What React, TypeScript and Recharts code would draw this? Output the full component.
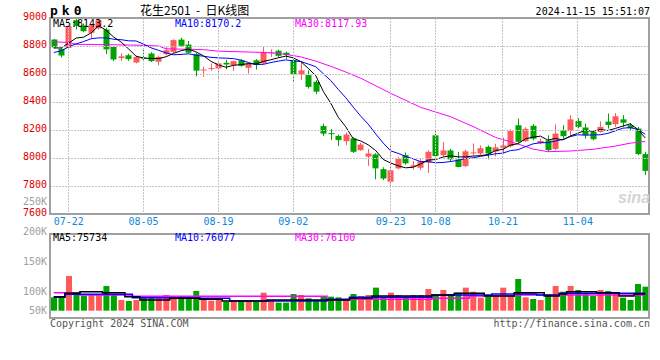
import { ComposedChart, Bar, Line, XAxis, YAxis, Cell } from 'recharts';

const DATES = [
  '07-18', '07-19', '07-22', '07-23', '07-24', '07-25', '07-26', '07-29', '07-30', '07-31',
  '08-01', '08-02', '08-05', '08-06', '08-07', '08-08', '08-09', '08-12', '08-13', '08-14',
  '08-15', '08-16', '08-19', '08-20', '08-21', '08-22', '08-23', '08-26', '08-27', '08-28',
  '08-29', '08-30', '09-02', '09-03', '09-04', '09-05', '09-06', '09-09', '09-10', '09-11',
  '09-12', '09-13', '09-18', '09-19', '09-20', '09-23', '09-24', '09-25', '09-26', '09-27',
  '09-30', '10-08', '10-09', '10-10', '10-11', '10-14', '10-15', '10-16', '10-17', '10-18',
  '10-21', '10-22', '10-23', '10-24', '10-25', '10-28', '10-29', '10-30', '10-31', '11-01',
  '11-04', '11-05', '11-06', '11-07', '11-08', '11-11', '11-12', '11-13', '11-14', '11-15',
];

const OPEN = [
  8846, 8780, 8786, 8984, 8946, 8894, 8926, 8918, 8794, 8714,
  8734, 8682, 8718, 8746, 8688, 8742, 8758, 8846, 8810, 8742,
  8626, 8636, 8640, 8680, 8664, 8698, 8644, 8698, 8676, 8748,
  8766, 8752, 8700, 8594, 8592, 8544, 8228, 8178, 8158, 8120,
  8140, 8056, 8010, 8026, 7920, 7830, 7926, 8020, 7936, 7930,
  7968, 8162, 8020, 8054, 7990, 7942, 8034, 8032, 8080, 8046,
  8072, 8084, 8234, 8120, 8230, 8106, 8126, 8064, 8198, 8194,
  8264, 8218, 8186, 8186, 8260, 8242, 8276, 8234, 8210, 8028,
];
const HIGH = [
  8850, 8788, 8950, 8996, 8960, 8952, 8998, 8930, 8800, 8748,
  8745, 8730, 8778, 8756, 8730, 8794, 8848, 8860, 8836, 8750,
  8652, 8676, 8684, 8700, 8696, 8706, 8684, 8706, 8800, 8776,
  8774, 8760, 8706, 8686, 8626, 8556, 8246, 8206, 8168, 8182,
  8148, 8108, 8064, 8034, 7934, 8096, 8008, 8040, 7978, 7996,
  8054, 8198, 8114, 8066, 8044, 8060, 8104, 8090, 8090, 8102,
  8146, 8206, 8282, 8220, 8242, 8140, 8162, 8240, 8234, 8306,
  8284, 8246, 8198, 8262, 8318, 8320, 8306, 8250, 8222, 8044,
];
const LOW = [
  8782, 8718, 8778, 8918, 8898, 8854, 8918, 8742, 8692, 8694,
  8694, 8676, 8698, 8686, 8662, 8734, 8750, 8796, 8746, 8584,
  8580, 8624, 8572, 8634, 8622, 8652, 8604, 8632, 8670, 8722,
  8720, 8708, 8544, 8556, 8496, 8456, 8158, 8128, 8086, 8092,
  8036, 8052, 7944, 7848, 7842, 7794, 7920, 7952, 7918, 7912,
  7894, 7976, 8012, 7972, 7934, 7936, 8020, 8020, 7990, 8012,
  8032, 8076, 8108, 8114, 8126, 8098, 8048, 8056, 8140, 8158,
  8212, 8138, 8126, 8180, 8210, 8222, 8222, 8198, 8020, 7878,
];
const CLOSE = [
  8790, 8732, 8942, 8944, 8906, 8948, 8984, 8776, 8704, 8726,
  8706, 8722, 8710, 8692, 8722, 8770, 8842, 8802, 8752, 8624,
  8632, 8642, 8676, 8668, 8692, 8658, 8676, 8664, 8758, 8754,
  8730, 8736, 8598, 8626, 8508, 8474, 8174, 8172, 8128, 8168,
  8044, 8096, 8032, 7926, 7854, 7912, 7994, 7962, 7948, 7976,
  8044, 8014, 8054, 7990, 7936, 8048, 8040, 8070, 8032, 8076,
  8090, 8194, 8116, 8208, 8138, 8122, 8056, 8174, 8156, 8276,
  8222, 8164, 8134, 8222, 8236, 8298, 8252, 8212, 8028, 7908,
];

const MA5 = [
  8786, 8786, 8821, 8857, 8863, 8894, 8945, 8912, 8864, 8828,
  8779, 8727, 8714, 8711, 8710, 8723, 8747, 8766, 8778, 8758,
  8730, 8690, 8665, 8648, 8662, 8667, 8674, 8672, 8690, 8702,
  8716, 8728, 8715, 8689, 8640, 8588, 8476, 8391, 8291, 8223,
  8137, 8122, 8094, 8053, 7990, 7964, 7944, 7930, 7934, 7958,
  7985, 7989, 8007, 8016, 8008, 8008, 8014, 8017, 8025, 8053,
  8062, 8092, 8102, 8137, 8149, 8156, 8128, 8140, 8129, 8157,
  8177, 8198, 8190, 8204, 8196, 8211, 8228, 8244, 8205, 8143,
];
const MA10 = [
  8754, 8765, 8795, 8815, 8832, 8852, 8858, 8858, 8848, 8845,
  8837, 8836, 8813, 8787, 8769, 8751, 8737, 8740, 8744, 8734,
  8727, 8719, 8715, 8713, 8710, 8699, 8682, 8668, 8669, 8682,
  8692, 8701, 8693, 8689, 8671, 8652, 8602, 8553, 8490, 8431,
  8363, 8299, 8242, 8172, 8107, 8051, 8033, 8012, 7994, 7974,
  7974, 7966, 7968, 7975, 7983, 7997, 8001, 8012, 8020, 8030,
  8035, 8053, 8059, 8081, 8101, 8109, 8110, 8121, 8133, 8153,
  8166, 8163, 8165, 8166, 8176, 8194, 8213, 8217, 8204, 8170,
];
// MA30 at these candles: [index, value]
const MA30_POINTS: [number, number][] = [
  [0, 8829], [2, 8826], [3, 8812], [7, 8810], [11, 8806], [14, 8800], [15, 8780],
  [20, 8774], [22, 8763], [26, 8757], [29, 8752], [31, 8740], [33, 8722], [35, 8692],
  [37, 8655], [39, 8614], [41, 8570], [45, 8462], [49, 8362], [53, 8295], [56, 8225],
  [59, 8147], [62, 8100], [64, 8064], [66, 8045], [69, 8050], [72, 8062], [75, 8085],
  [77, 8106], [79, 8118],
];

const VOLUME = [
  89400, 89400, 125000, 97200, 92200, 93300, 93300, 108300, 95000, 85000,
  83300, 85000, 89400, 89400, 89400, 93300, 89400, 87800, 90600, 100000,
  85000, 83900, 87800, 82200, 85000, 83300, 83900, 82200, 97200, 85000,
  80600, 80600, 95000, 93300, 87800, 85000, 90600, 90600, 89400, 85000,
  95000, 91700, 93300, 105600, 89400, 97200, 93300, 90600, 93300, 93300,
  103300, 93300, 101700, 95000, 97200, 105600, 98900, 88900, 90600, 93300,
  105600, 93300, 120000, 89400, 86700, 85000, 91700, 108300, 98900, 108300,
  101700, 95000, 91700, 101700, 100000, 95000, 88900, 85000, 111700, 107200,
];
const VOL_BASE = 67200;
// volume moving averages, read as flat steps: [value, number of bars]
const VMA5_RUNS: [number, number][] = [
  [90600, 2], [96100, 2], [98900, 3], [97200, 3], [90600, 2], [85000, 4], [87800, 4],
  [86100, 3], [83300, 6], [85000, 11], [87800, 3], [91700, 8], [93300, 3], [96100, 4],
  [91700, 4], [97200, 4], [91700, 2], [95000, 1], [98900, 4], [97200, 3], [91700, 2], [95000, 2],
];
const VMA10_RUNS: [number, number][] = [
  [89400, 2], [94400, 9], [88900, 9], [87800, 4], [83300, 13], [86100, 3], [89400, 11],
  [93300, 8], [95000, 6], [93300, 3], [96100, 12],
];
const VMA30_RUNS: [number, number][] = [
  [97200, 4], [93300, 7], [91100, 26], [85000, 3], [86100, 11], [87800, 5], [91700, 6], [93300, 18],
];

const DATE_TICKS = ['07-22', '08-05', '08-19', '09-02', '09-23', '10-08', '10-21', '11-04'];
const PRICE_TICKS = [7600, 7800, 8000, 8200, 8400, 8600, 8800, 9000];
const VOL_DOMAIN = [55000, 195000];
const VOL_GRID = [90000, 125000, 160000];
const VOL_TICKS = [250000, 200000, 150000, 100000, 68000];
const VOL_TICK_LABELS = ['250K', '200K', '150K', '100K', '50K'];

const UP = '#ff5a5a';
const DOWN = '#00a400';
const BORDER = '#a0a0a0';
const GRID = '#c4c4c4';
const MONO = '"DejaVu Sans Mono", monospace';

// plot box of both panels (pixels inside each chart's svg)
const PLOT_LEFT = 50;
const PLOT_RIGHT = 649;
const PRICE_PLOT_H = 196;
const VOL_PLOT_H = 84;

const runs = (r: [number, number][]) => r.flatMap(([v, n]) => Array(n).fill(v));
const vma5 = runs(VMA5_RUNS);
const vma10 = runs(VMA10_RUNS);
const vma30 = runs(VMA30_RUNS);
const ma30 = new Map(MA30_POINTS);

const rows = DATES.map((date, i) => ({
  date,
  open: OPEN[i],
  high: HIGH[i],
  low: LOW[i],
  close: CLOSE[i],
  vol: VOLUME[i],
  ma5: MA5[i],
  ma10: MA10[i],
  ma30: ma30.has(i) ? ma30.get(i) : null,
  vma5: vma5[i],
  vma10: vma10[i],
  vma30: vma30[i],
}));

const snap = (v: number) => Math.floor(v) + 0.5;

// grid line snapped to whole pixels
function GridLine({ x1, y1, x2, y2 }: { x1: number; y1: number; x2: number; y2: number }) {
  const vertical = Math.abs(x2 - x1) < 0.01;
  return (
    <line
      x1={vertical ? snap(x1) : Math.floor(x1)}
      x2={vertical ? snap(x2) : Math.floor(x2)}
      y1={vertical ? Math.floor(y1) : snap(y1)}
      y2={vertical ? Math.floor(y2) : snap(y2)}
      stroke={GRID}
      strokeWidth={1}
      strokeDasharray="2 1"
    />
  );
}

function Candle(props: any) {
  const { x, y, width, height, payload } = props;
  const { open, close, high, low } = payload;
  const top = Math.min(y, y + height);
  const h = Math.abs(height);
  const k = high > low ? h / (high - low) : 0;
  const color = close >= open ? UP : DOWN;
  const cx = Math.floor(x + width / 2) + 0.5;
  const bodyTop = top + (high - Math.max(open, close)) * k;
  const bodyH = Math.max(1, Math.abs(close - open) * k);
  return (
    <g>
      <line x1={cx} x2={cx} y1={top} y2={top + h} stroke={color} strokeWidth={1} />
      <rect x={cx - 3} y={bodyTop} width={6} height={bodyH} fill={color} />
    </g>
  );
}

function PriceTick({ x, y, payload }: any) {
  const inner = payload.value > PRICE_TICKS[0] && payload.value < PRICE_TICKS[PRICE_TICKS.length - 1];
  return (
    <g>
      {inner && <GridLine x1={PLOT_LEFT} x2={PLOT_RIGHT} y1={y} y2={y} />}
      <text x={x} y={y - 2} dy="0.35em" textAnchor="end" fill="#dd0000" fontSize={10} fontFamily={MONO}>
        {payload.value}
      </text>
    </g>
  );
}

function DateTick({ x, y, payload }: any) {
  return (
    <g>
      <GridLine x1={x} x2={x} y1={y - PRICE_PLOT_H} y2={y} />
      <text x={x} y={y + 7.5} dy="0.35em" textAnchor="middle" fill="#0a88dc" fontSize={10} fontFamily={MONO}>
        {payload.value}
      </text>
    </g>
  );
}

function VolTick({ x, y, payload }: any) {
  const label = VOL_TICK_LABELS[VOL_TICKS.indexOf(payload.value)];
  return (
    <text x={x} y={y} dy="0.35em" textAnchor="end" fill="#a0a0a0" fontSize={10} fontFamily={MONO}>
      {label}
    </text>
  );
}

function VolGridTick({ y }: any) {
  return <GridLine x1={PLOT_LEFT} x2={PLOT_RIGHT} y1={y} y2={y} />;
}

function VolDateTick({ x, y }: any) {
  return <GridLine x1={x} x2={x} y1={y - VOL_PLOT_H} y2={y} />;
}

const txt = (extra: any) => ({
  position: 'absolute' as const,
  whiteSpace: 'pre' as const,
  fontFamily: MONO,
  fontSize: 10,
  lineHeight: '12px',
  ...extra,
});

const frame = (top: number, height: number) => ({
  position: 'absolute' as const,
  left: 49,
  top,
  width: 601,
  height,
  boxSizing: 'border-box' as const,
  border: `2px solid ${BORDER}`,
  pointerEvents: 'none' as const,
});

export default function App() {
  return (
    <div style={{ position: 'absolute', left: 0, top: 0, width: 660, height: 360, background: '#fff', overflow: 'hidden' }}>
      <div style={{ position: 'absolute', left: 0, top: 0 }}>
        <ComposedChart width={660} height={232} data={rows} margin={{ top: 18, right: 11, bottom: 0, left: 0 }} barCategoryGap={0}>
          <XAxis xAxisId="d" dataKey="date" ticks={DATE_TICKS} interval={0} height={18} tickLine={false} tickSize={0} tickMargin={0} axisLine={false} tick={<DateTick />} />
          <YAxis yAxisId="p" domain={[7600, 9000]} ticks={PRICE_TICKS} interval={0} width={50} allowDataOverflow tickLine={false} tickSize={0} tickMargin={3} axisLine={false} tick={<PriceTick />} />
          <Bar xAxisId="d" yAxisId="p" dataKey={(d: any) => [d.low, d.high]} barSize={6} shape={<Candle />} isAnimationActive={false} />
          <Line xAxisId="d" yAxisId="p" dataKey="ma30" stroke="#ff00ff" strokeWidth={1} dot={false} connectNulls isAnimationActive={false} />
          <Line xAxisId="d" yAxisId="p" dataKey="ma10" stroke="#0000ff" strokeWidth={1} dot={false} isAnimationActive={false} />
          <Line xAxisId="d" yAxisId="p" dataKey="ma5" stroke="#000000" strokeWidth={1} dot={false} isAnimationActive={false} />
        </ComposedChart>
      </div>

      <div style={{ position: 'absolute', left: 0, top: 190 }}>
        <ComposedChart width={660} height={128} data={rows} margin={{ top: 44, right: 11, bottom: 0, left: 0 }} barCategoryGap={0}>
          <XAxis xAxisId="vd" dataKey="date" ticks={DATE_TICKS} interval={0} height={0} tickLine={false} tickSize={0} tickMargin={0} axisLine={false} tick={<VolDateTick />} />
          <YAxis yAxisId="v" domain={VOL_DOMAIN} ticks={VOL_TICKS} interval={0} width={50} allowDataOverflow tickLine={false} tickSize={0} tickMargin={3} axisLine={false} tick={<VolTick />} />
          <YAxis yAxisId="g" orientation="right" domain={VOL_DOMAIN} ticks={VOL_GRID} interval={0} width={0} allowDataOverflow tickLine={false} tickSize={0} axisLine={false} tick={<VolGridTick />} />
          <Bar xAxisId="vd" yAxisId="v" dataKey={(d: any) => [VOL_BASE, d.vol]} barSize={6} isAnimationActive={false}>
            {rows.map((r, i) => (
              <Cell key={i} fill={r.close >= r.open ? UP : DOWN} />
            ))}
          </Bar>
          <Line xAxisId="vd" yAxisId="v" type="step" dataKey="vma30" stroke="#ff00ff" strokeWidth={1.5} dot={false} isAnimationActive={false} />
          <Line xAxisId="vd" yAxisId="v" type="step" dataKey="vma10" stroke="#0000ff" strokeWidth={1.5} dot={false} isAnimationActive={false} />
          <Line xAxisId="vd" yAxisId="v" type="step" dataKey="vma5" stroke="#000000" strokeWidth={1.5} dot={false} isAnimationActive={false} />
        </ComposedChart>
      </div>

      <div style={frame(17, 198)} />
      <div style={frame(233, 86)} />

      <div style={txt({ left: 50, top: 3, fontSize: 13, lineHeight: '16px', fontWeight: 'bold', letterSpacing: 4 })}>pk0</div>
      <div style={txt({ left: 140, top: 2, fontSize: 12, lineHeight: '16px', fontFamily: '"Noto Sans CJK SC", sans-serif' })}>花生2501  -  日K线图</div>
      <div style={txt({ right: 10, top: 6 })}>2024-11-15 15:51:07</div>

      <div style={txt({ left: 53, top: 18 })}>MA5:8143.2</div>
      <div style={txt({ left: 175, top: 18, color: '#0000ff' })}>MA10:8170.2</div>
      <div style={txt({ left: 295, top: 18, color: '#ff00ff' })}>MA30:8117.93</div>

      <div style={txt({ left: 53, top: 232 })}>MA5:75734</div>
      <div style={txt({ left: 175, top: 232, color: '#0000ff' })}>MA10:76077</div>
      <div style={txt({ left: 295, top: 232, color: '#ff00ff' })}>MA30:76100</div>

      <div style={txt({ left: 618, top: 189, fontSize: 16, lineHeight: '18px', fontFamily: '"Liberation Sans", sans-serif', fontStyle: 'italic', fontWeight: 'bold', color: '#d4d4d4' })}>sina</div>

      <div style={txt({ left: 50, top: 318, color: '#555' })}>Copyright 2024 SINA.COM</div>
      <div style={txt({ right: 10, top: 318, color: '#555' })}>http://finance.sina.com.cn</div>
    </div>
  );
}
